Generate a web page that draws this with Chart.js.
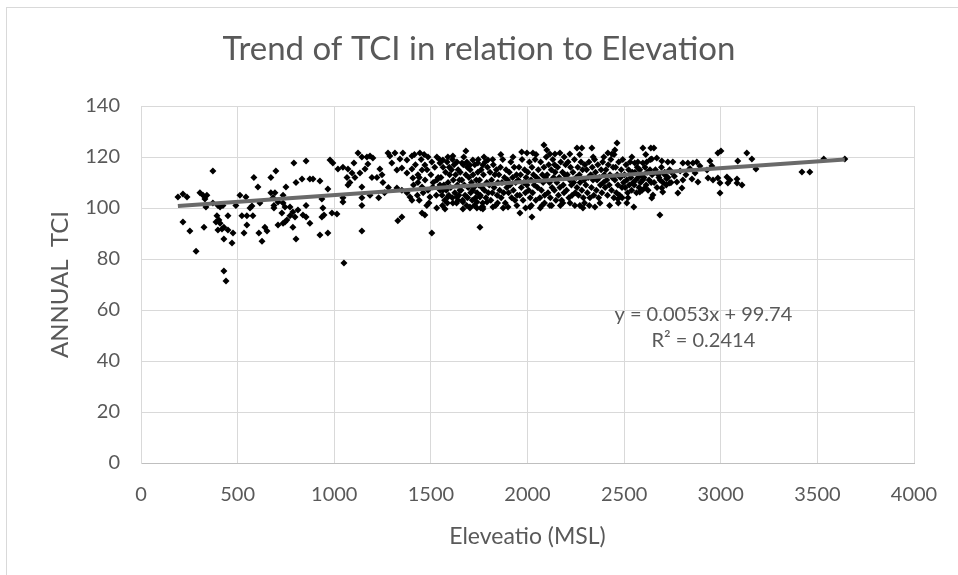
<!DOCTYPE html>
<html>
<head>
<meta charset="utf-8">
<script src="https://cdn.jsdelivr.net/npm/chart.js@4/dist/chart.umd.min.js"></script>
<style>
  body { margin: 0; background: #fff; }
  #wrap { width: 958px; height: 575px; }
</style>
</head>
<body>
<div id="wrap"><canvas id="tciChart" width="958" height="575"></canvas></div>
<script>
// elevation (MSL) and annual TCI
var elevation = [
  191,217,238,372,217,253,285,305,321,341,331,326,336,372,398,409,424,393,403,388,
  409,398,419,429,450,450,476,429,471,429,440,491,512,543,522,548,579,564,574,548,
  533,584,605,615,610,626,641,652,672,698,672,693,683,688,688,709,735,735,750,709,
  735,745,755,729,745,771,771,791,802,833,786,797,786,802,812,838,854,854,854,874,
  890,874,926,936,941,947,936,926,967,967,978,993,988,1014,1019,
  1045,1071,1092,1102,1123,1143,1169,1185,1200,1066,1081,1107,1133,1159,1174,1195,1221,1236,1247,1252,
  1045,1045,1071,1143,1143,1143,1185,1143,1050,1260,1280,1230,
  1278,1288,1314,1340,1355,1376,1402,1443,1298,1324,1350,1376,1402,1407,1433,1454,1469,1485,1505,1531,
  1547,1562,1588,1614,1635,1661,1686,1702,1717,1743,1769,1795,1681,1324,1350,1376,1392,1402,1433,1454,
  1485,1495,1510,1531,1547,1562,1588,1614,1635,1650,1666,1686,1702,1717,1738,1754,1769,1790,1329,1350,
  1454,1469,1479,1505,1573,1666,1702,1738,1769,1754,
  1410,1420,1430,1440,1450,1460,1470,1480,1490,1500,1512,1520,1528,1538,1545,1548,1415,1465,1530,1440,
  1552,1558,1563,1567,1571,1576,1580,1584,1589,1593,1597,1560,1585,1595,
  1603,1607,1611,1616,1620,1624,1628,1633,1637,1641,1645,1648,1612,1640,
  1652,1656,1660,1664,1668,1673,1677,1681,1685,1689,1693,1697,1670,1690,
  1703,1706,1710,1714,1718,1722,1727,1731,1735,1739,1743,1747,1725,1745,
  1752,1756,1760,1764,1768,1772,1777,1781,1785,1789,1793,1797,1775,1758,
  1802,1806,1810,1814,1818,1823,1827,1831,1835,1839,1843,1847,1820,1845,
  1852,1856,1860,1864,1868,1872,1877,1881,1885,1889,1893,1897,1874,1862,
  1902,1906,1910,1914,1918,1923,1927,1931,1935,1939,1943,1947,1925,1945,
  1952,1956,1960,1964,1968,1972,1977,1981,1985,1989,1993,1997,1970,1990,
  2002,2006,2010,2014,2018,2023,2027,2031,2035,2039,2043,2047,2020,2044,
  2052,2056,2060,2064,2068,2072,2077,2081,2085,2089,2093,2097,2066,2088,
  2102,2106,2110,2114,2118,2123,2127,2131,2135,2139,2143,2147,2125,2140,
  2152,2156,2160,2164,2168,2172,2177,2181,2185,2189,2193,2197,2170,2190,
  2202,2206,2210,2214,2218,2223,2227,2231,2235,2239,2243,2247,2220,2245,
  2252,2256,2260,2264,2268,2272,2277,2281,2285,2289,2293,2297,2270,2295,
  2302,2306,2310,2314,2318,2323,2327,2331,2335,2339,2343,2347,2320,2340,
  2352,2356,2360,2364,2368,2372,2377,2381,2385,2389,2393,2397,2375,2395,
  2402,2406,2410,2414,2418,2423,2427,2431,2435,2439,2443,2447,2425,2448,
  2452,2456,2460,2464,2468,2472,2477,2481,2485,2489,2493,2497,2470,2490,
  2502,2506,2510,2514,2518,2523,2527,2531,2535,2539,2543,2547,2520,2540,
  2552,2556,2560,2564,2568,2573,2577,2581,2585,2589,2593,2597,
  2603,2608,2614,2619,2624,2629,2634,2640,2645,2612,2636,
  2655,2662,2670,2678,2686,2693,2701,2710,2718,2727,2735,2743,
  2085,1997,2028,2100,2116,2142,2168,2219,2256,2281,2333,2416,2437,2463,2452,
  1821,1899,1961,2013,2023,2075,2116,2183,2271,2287,2349,2468,2514,2550,
  2597,2638,2654,2985,3001,3135,3088,3161,3182,2944,2954,2876,2892,2856,2830,2804,2752,2726,2695,2669,
  2643,2617,2597,2571,2555,2851,2882,2934,2960,2985,2996,3032,3037,3048,3084,3084,3110,2929,2867,2996,
  2685,2581,2607,2643,2649,2700,2695,2736,2778,2799,2804,2773,
  2710,2745,2760,2790,2820,2840,2720,2680,2660,
  3420,3461,3533,3642
];
var tci = [
  104.3,105.5,104.3,114.5,94.5,91,83,106,105,105,103.5,92.5,100.4,102,101,100.4,101,97,95.3,94.5,
  94,91.4,91.8,92.5,97,91.4,90.2,87.8,86.3,75.3,71.4,101,105,104.3,97,97,97,100,100.8,93.3,
  90.2,112,108.2,102,90.2,87,92.5,91,112,114.5,106,106,104,101,100,102.4,102,105,108.2,93.3,
  94,94.5,95.3,98,100.4,100.4,97,117.6,110,111.4,98.4,96.5,92.5,87.8,99.2,97.3,96.5,118.4,101,111.4,
  111.4,94,110.6,103.5,100,97.3,96.5,89.4,90.2,107.5,118.8,117.6,98,97.6,115.3,
  116,115.3,113.7,117.6,121.6,120,120,120.4,119.6,112,110,112,113.7,115.3,117.3,112,112,115.3,113,110,
  104,102.4,109,108.2,104,101,105,91,78.4,106,108,104,
  121.6,120.4,121.6,119.2,121.6,118.8,120.4,121.6,117.6,114.9,115.7,113.7,115.3,111.8,113,114.9,116.9,120,118,120,
  117.6,118.8,120,120.4,118,117.6,118,116.9,118.8,117.6,116.9,118.8,122.4,107.8,107,106,104.3,103,110,108.2,
  107,104.3,108.2,111,109,107,104.3,102,104.3,107,102.4,104.3,100.4,107,102.4,104.3,100.4,102.4,95,96.5,
  98,97.3,101,90.2,99.6,99.6,100,100,99.6,92.5,
  109,117,105,112,119,106,111,115,102,113,110,116,105,112,119,107,121,121,100,103,
  112,105,116,109,103,114,107,118,110,105,113,101,102,116,
  108,115,104,111,117,106,113,102,109,115,105,111,119,103,
  114,107,111,103,117,109,105,113,101,116,108,112,120,104,
  115,106,110,103,113,108,117,104,111,106,114,109,101,119,
  111,105,115,108,102,113,107,118,104,110,116,106,120,100,
  109,114,103,111,106,117,108,113,101,115,105,110,119,102,
  113,107,116,104,110,119,106,112,102,115,108,111,100,121,
  106,114,109,118,104,112,107,116,103,110,113,105,120,101,
  111,116,105,113,108,119,103,110,115,106,112,109,122,100,
  114,107,118,104,111,116,106,113,109,119,103,112,101,121,
  108,115,111,104,118,107,113,110,116,105,112,120,100,102,
  113,106,117,110,104,115,108,119,112,107,114,103,101,117,
  110,116,105,112,108,118,103,114,109,106,113,117,101,120,
  107,113,118,104,111,116,109,105,114,110,119,106,102,101,
  112,108,116,105,113,110,118,107,115,104,111,117,121,102,
  109,115,106,112,118,104,113,108,116,111,105,119,101,120,
  114,107,111,117,104,112,109,115,106,118,110,113,102,120,
  108,115,111,105,117,109,113,119,107,112,116,104,101,121,
  111,116,106,113,109,118,105,112,115,108,119,110,102,104,
  113,108,117,111,106,115,109,118,112,107,114,110,104,120,
  109,114,111,106,116,112,108,115,110,113,107,111,
  112,116,109,114,107,111,115,110,113,121,119,
  110,115,108,113,111,116,110,114,109,112,115,110,
  124.7,121.6,121.6,122.7,121.2,121.2,121.6,121.2,123.5,123.5,123.5,121.6,121.2,125.5,122.7,
  100.4,100.4,98,100.4,96.5,101,101,102,101,100,100.4,103.5,102,100.4,
  123.5,123.5,123.5,121.6,122.4,121.6,118.4,119.2,115.3,118.4,116.5,118,116.5,117.6,117.6,117.6,118,118,118.4,119.6,
  119.2,118,117.6,118,117.6,111.4,110.2,111.8,111,111.8,109.8,112.2,109.8,111,111.4,109.8,109,114.9,113.7,105.9,
  97.3,106.3,107.8,103.9,105.1,106.3,107.8,109.8,105.9,107.8,111,110.2,
  113,114,112.5,114.5,113,115.5,111.5,112,114,
  114.1,114.1,119.2,119.2
];

// trendline shown in the picture: y = 0.0053x + 99.74, R² = 0.2414
var slope = 0.0053;
var intercept = 99.74;
var rSquared = '0.2414';

var xTicks = [0, 500, 1000, 1500, 2000, 2500, 3000, 3500, 4000];
var yTicks = [0, 20, 40, 60, 80, 100, 120, 140];

var points = elevation.map(function(e, i){ return { x: e, y: tci[i] }; });
var xMin = Math.min.apply(null, elevation);
var xMax = Math.max.apply(null, elevation);
var trend = [
  { x: xMin, y: slope * xMin + intercept },
  { x: xMax, y: slope * xMax + intercept }
];

var textColor = '#595959';
var gridColor = '#d9d9d9';
var fontFamily = 'Lato, "Noto Sans", sans-serif';

// chart frame + equation label
var framePlugin = {
  id: 'frame',
  beforeDraw: function(chart){
    var c = chart.ctx;
    c.save();
    c.fillStyle = '#fff';
    c.fillRect(0, 0, chart.width, chart.height);
    c.strokeStyle = gridColor;
    c.lineWidth = 1;
    c.strokeRect(6.5, 7.5, 1000, 600);
    c.restore();
  },
  afterDatasetsDraw: function(chart){
    var c = chart.ctx;
    var px = chart.scales.x.getPixelForValue(2910);
    var py = chart.scales.y.getPixelForValue(58.4);
    c.save();
    c.fillStyle = textColor;
    c.font = '20px ' + fontFamily;
    c.textAlign = 'center';
    c.textBaseline = 'middle';
    c.fillText('y = ' + slope + 'x + ' + intercept, px, py);
    c.fillText('R² = ' + rSquared, px, py + 26);
    c.restore();
  }
};

var ctx = document.getElementById('tciChart');

new Chart(ctx, {
  type: 'scatter',
  data: {
    datasets: [
      {
        type: 'line',
        data: trend,
        borderColor: '#6a6a6a',
        borderWidth: 4,
        pointRadius: 0,
        order: 0
      },
      {
        data: points,
        pointStyle: 'rectRot',
        pointRadius: 3.5,
        backgroundColor: '#000',
        borderWidth: 0,
        order: 1
      }
    ]
  },
  options: {
    responsive: false,
    animation: false,
    layout: { padding: 0 },
    plugins: {
      legend: { display: false },
      tooltip: { enabled: false },
      title: {
        display: true,
        text: 'Trend of TCI in relation to Elevation',
        color: textColor,
        font: { family: fontFamily, size: 33, weight: 'normal', lineHeight: 1.2 },
        padding: { top: 30, bottom: 36.4 }
      }
    },
    scales: {
      x: {
        type: 'linear',
        min: 0,
        max: 4000,
        afterBuildTicks: function(s){ s.ticks = xTicks.map(function(v){ return { value: v }; }); },
        afterFit: function(s){ s.height = 112; },
        ticks: {
          color: textColor,
          font: { family: fontFamily, size: 20 },
          padding: 20,
          callback: function(v){ return String(v); }
        },
        grid: { color: gridColor, drawTicks: false },
        border: { color: '#bfbfbf' },
        title: {
          display: true,
          text: 'Eleveatio (MSL)',
          color: textColor,
          font: { family: fontFamily, size: 23 },
          padding: { top: 0, bottom: 25 }
        }
      },
      y: {
        min: 0,
        max: 140,
        afterBuildTicks: function(s){ s.ticks = yTicks.map(function(v){ return { value: v }; }); },
        afterFit: function(s){ s.width = 141; },
        ticks: {
          color: textColor,
          font: { family: fontFamily, size: 20 },
          padding: 21,
          callback: function(v){ return String(v); }
        },
        grid: { color: gridColor, drawTicks: false },
        border: { color: gridColor },
        title: {
          display: true,
          text: 'ANNUAL  TCI',
          color: textColor,
          font: { family: fontFamily, size: 24 },
          padding: { top: 46, bottom: 0 }
        }
      },
      // empty right margin so the title centres on the whole chart
      yRight: {
        position: 'right',
        min: 0,
        max: 140,
        afterFit: function(s){ s.width = 44; },
        ticks: { display: false },
        grid: { display: false },
        border: { display: false }
      }
    }
  },
  plugins: [framePlugin]
});
</script>
</body>
</html>
